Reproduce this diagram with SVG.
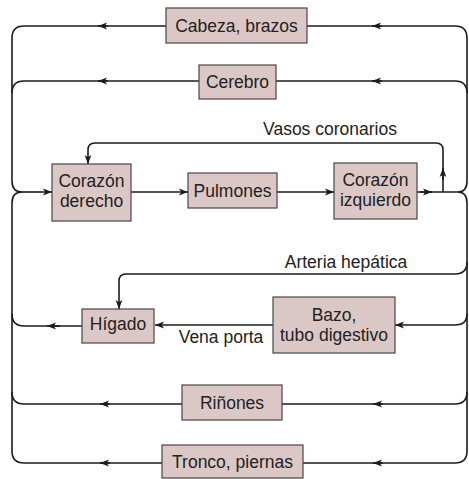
<svg xmlns="http://www.w3.org/2000/svg" width="469" height="479" viewBox="0 0 469 479">
  <style>
    .bg { fill: #ffffff; }
    .box { fill: #dcc7c7; stroke: #4a4444; stroke-width: 1.2; }
    .lbl { font-family: "Liberation Sans", Arial, Helvetica, sans-serif; font-size: 17.5px; fill: #222222; text-anchor: middle; }
    .wire { fill: none; stroke: #1c1c1c; stroke-width: 1.6; }
    .tip { fill: none; stroke: #1c1c1c; stroke-width: 1.6; marker-end: url(#ah); }
  </style>
  <defs>
    <marker id="ah" markerUnits="userSpaceOnUse" markerWidth="10" markerHeight="8" refX="9" refY="4" orient="auto">
      <path d="M0,0.6 L9,4 L0,7.4 L2.2,4 z" fill="#1c1c1c"/>
    </marker>
  </defs>

  <rect class="bg" x="0" y="0" width="469" height="479"/>

  <!-- circulation lines -->
  <g id="connectors">
    <!-- left return trunk -->
    <path class="wire" d="M166,26 H24 Q12,26 12,38 V181 Q12,192 22,192"/>
    <path class="wire" d="M199,81 H24 Q12,81 12,93"/>
    <path class="wire" d="M22,192 Q12,192 12,203 V451 Q12,463 24,463 H162"/>
    <path class="wire" d="M82,326 H24 Q12,326 12,314"/>
    <path class="wire" d="M182,404 H24 Q12,404 12,392"/>
    <path class="tip" d="M22,192 H52"/>

    <!-- pulmonary circuit -->
    <path class="tip" d="M131,192 H188"/>
    <path class="tip" d="M277,192 H334"/>
    <path class="wire" d="M417,192 H458"/>
    <path class="tip" d="M420,192 H432"/>

    <!-- coronary vessels -->
    <path class="tip" d="M443,192 V150 Q443,143 436,143 H95 Q88,143 88,150 V164"/>
    <path class="tip" d="M443,180 V168"/>

    <!-- right supply trunk -->
    <path class="wire" d="M307,26 H455 Q467,26 467,38 V181 Q467,192 458,192"/>
    <path class="wire" d="M276,81 H455 Q467,81 467,93"/>
    <path class="wire" d="M458,192 Q467,192 467,203 V451 Q467,463 455,463 H303"/>
    <path class="tip" d="M467,262 Q467,274 455,274 H126 Q119,274 119,281 V309"/>
    <path class="tip" d="M467,314 Q467,325 455,325 H395"/>
    <path class="tip" d="M273,325 H155"/>
    <path class="wire" d="M467,392 Q467,404 455,404 H282"/>

    <!-- flow direction marks -->
    <path class="tip" d="M108,26 H98"/>
    <path class="tip" d="M382,26 H372"/>
    <path class="tip" d="M108,81 H98"/>
    <path class="tip" d="M382,81 H372"/>
    <path class="tip" d="M60,326 H47"/>
    <path class="tip" d="M110,404 H100"/>
    <path class="tip" d="M383,404 H373"/>
    <path class="tip" d="M110,463 H100"/>
    <path class="tip" d="M383,463 H373"/>
  </g>

  <!-- labels on vessels -->
  <text class="lbl" x="330" y="135">Vasos coronarios</text>
  <text class="lbl" x="346" y="268">Arteria hepática</text>
  <text class="lbl" x="221" y="343">Vena porta</text>

  <g id="cabeza">
    <rect class="box" x="166" y="8" width="141" height="35"/>
    <text class="lbl" x="236.5" y="32">Cabeza, brazos</text>
  </g>
  <g id="cerebro">
    <rect class="box" x="199" y="65" width="77" height="34"/>
    <text class="lbl" x="237.5" y="88">Cerebro</text>
  </g>
  <g id="corazon-derecho">
    <rect class="box" x="52" y="164" width="79" height="57"/>
    <text class="lbl" x="91.5" y="187">Corazón</text>
    <text class="lbl" x="91.5" y="207">derecho</text>
  </g>
  <g id="pulmones">
    <rect class="box" x="188" y="173" width="89" height="35"/>
    <text class="lbl" x="232.5" y="197">Pulmones</text>
  </g>
  <g id="corazon-izquierdo">
    <rect class="box" x="334" y="163" width="83" height="56"/>
    <text class="lbl" x="375.5" y="186">Corazón</text>
    <text class="lbl" x="375.5" y="206">izquierdo</text>
  </g>
  <g id="higado">
    <rect class="box" x="82" y="309" width="72" height="34"/>
    <text class="lbl" x="118" y="330">Hígado</text>
  </g>
  <g id="bazo">
    <rect class="box" x="273" y="297" width="122" height="56"/>
    <text class="lbl" x="334" y="321">Bazo,</text>
    <text class="lbl" x="334" y="341">tubo digestivo</text>
  </g>
  <g id="rinones">
    <rect class="box" x="182" y="385" width="100" height="35"/>
    <text class="lbl" x="232" y="409">Riñones</text>
  </g>
  <g id="tronco">
    <rect class="box" x="162" y="445" width="141" height="33"/>
    <text class="lbl" x="232.5" y="468">Tronco, piernas</text>
  </g>
</svg>
